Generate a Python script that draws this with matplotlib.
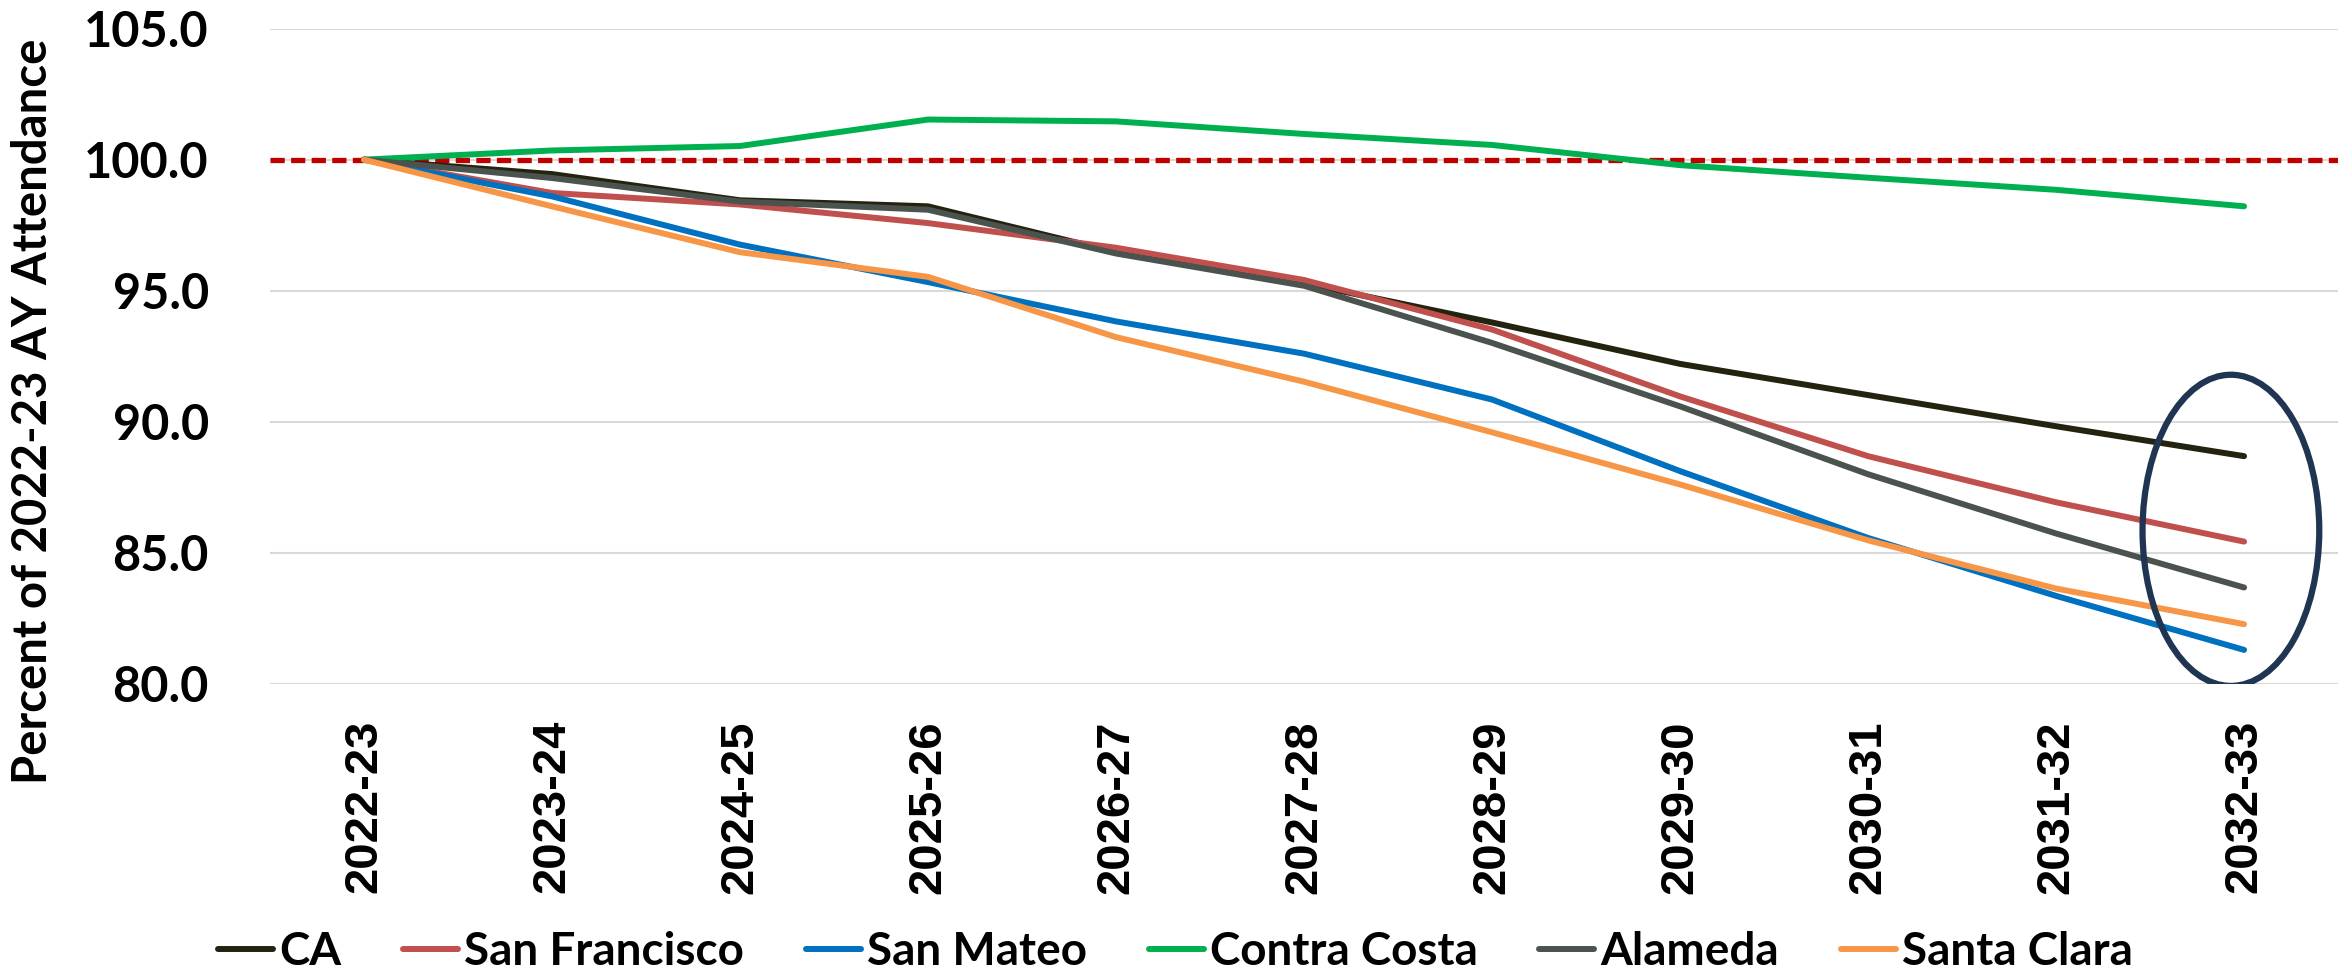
import numpy as np
import matplotlib
matplotlib.use("Agg")
from matplotlib import pyplot as plt
from matplotlib.patches import Ellipse

plt.rcParams['font.family'] = ['Lato', 'DejaVu Sans']
plt.rcParams['font.weight'] = 'bold'

years = ['2022-23', '2023-24', '2024-25', '2025-26', '2026-27', '2027-28',
         '2028-29', '2029-30', '2030-31', '2031-32', '2032-33']
ca = [100, 99.45, 98.45, 98.22, 96.47, 95.28, 93.79, 92.21, 91.02, 89.83, 88.69]
san_francisco = [100, 98.73, 98.29, 97.58, 96.64, 95.41, 93.52, 90.97, 88.69, 86.93, 85.43]
san_mateo = [100, 98.6, 96.76, 95.33, 93.83, 92.6, 90.85, 88.12, 85.57, 83.36, 81.3]
contra_costa = [100, 100.35, 100.52, 101.53, 101.46, 100.98, 100.56, 99.79, 99.31, 98.85, 98.22]
alameda = [100, 99.3, 98.4, 98.09, 96.42, 95.19, 93.01, 90.59, 88.0, 85.74, 83.68]
santa_clara = [100, 98.22, 96.47, 95.53, 93.23, 91.53, 89.6, 87.61, 85.48, 83.64, 82.28]

series = [('CA', ca, '#23230f'),
          ('San Francisco', san_francisco, '#c0504d'),
          ('San Mateo', san_mateo, '#0070c0'),
          ('Contra Costa', contra_costa, '#00b050'),
          ('Alameda', alameda, '#4b534f'),
          ('Santa Clara', santa_clara, '#f79646')]

fig = plt.figure(figsize=(23.51, 9.75), dpi=100)
ax = fig.add_axes([0.1148, 0.2985, 0.8797, 0.6722])

x = np.arange(len(years))
ax.axhline(100, color='#c00000', lw=3.8, dashes=(2.7, 1.2), zorder=2)
for name, vals, col in series:
    ax.plot(x, vals, color=col, lw=4.3, label=name, solid_capstyle='round', zorder=3)

# circle round the last year
ax.add_patch(Ellipse((9.93, 85.86), 0.94, 11.87, fill=False,
                     edgecolor='#1f3552', lw=4.5, zorder=4))

ax.set_xlim(-0.5, 10.5)
ax.set_ylim(80, 105)
ax.set_yticks(np.arange(80, 105.1, 5))
ax.set_yticklabels(['%.1f' % v for v in np.arange(80, 105.1, 5)])
ax.set_xticks(x)
ax.set_xticklabels(years, rotation=90, family=['Liberation Sans', 'DejaVu Sans'])
ax.tick_params(axis='y', length=0, pad=44, labelsize=35)
ax.tick_params(axis='x', length=0, pad=26, labelsize=34)
ax.grid(axis='y', color='#d9d9d9', lw=1.5, zorder=0)
for s in ax.spines.values():
    s.set_visible(False)

fig.text(33 / 2351, 0.578, 'Percent of 2022-23 AY Attendance', rotation=90,
         ha='center', va='center', fontsize=34, fontweight='bold')

fig.legend(loc='center', bbox_to_anchor=(0.5, 0.0236), ncol=6, frameon=False,
           fontsize=33, handlelength=1.2, handletextpad=0.13, columnspacing=1.35)

fig.savefig('out.png', dpi=100)
